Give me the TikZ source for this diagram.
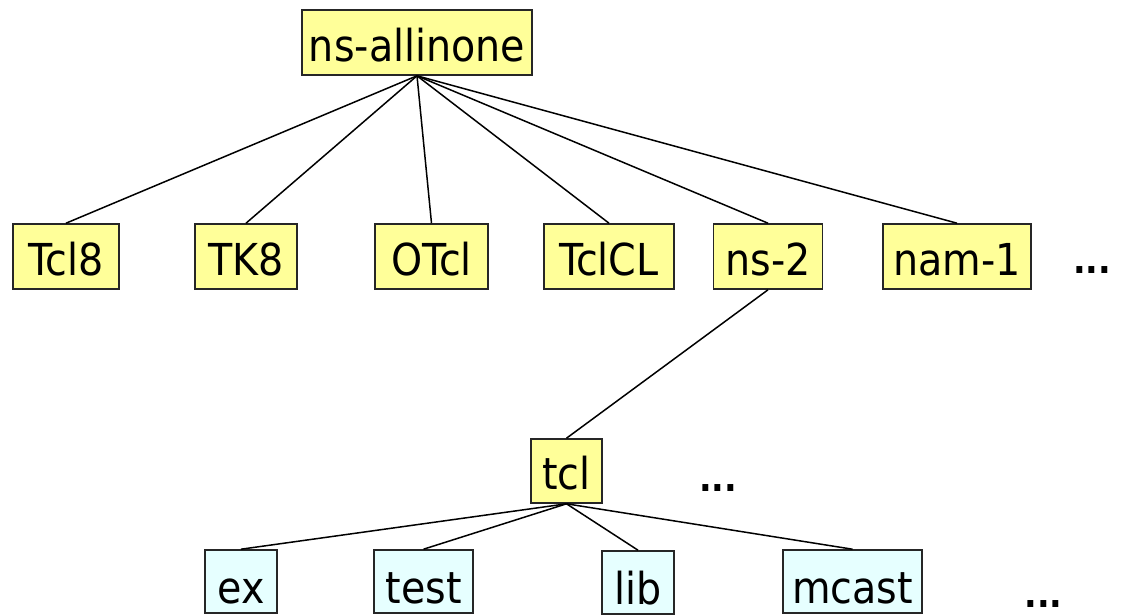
\documentclass[tikz,border=0pt]{standalone}
\usepackage{fontspec}
\setmainfont{DejaVu Sans Condensed}
\definecolor{diryellow}{HTML}{FFFF99}
\definecolor{dircyan}{HTML}{E6FFFF}
\begin{document}
\begin{tikzpicture}[x=1pt,y=-1pt,
  dirbox/.style={draw=black!85, line width=1.6pt, fill=diryellow, inner sep=0pt,
    minimum height=65pt, text height=37pt, text depth=0pt,
    font=\fontsize{44}{50}\selectfont},
  subbox/.style={dirbox, fill=dircyan, minimum height=63pt, text height=44pt},
  link/.style={line width=1.5pt, black},
  moredots/.style={inner sep=0pt, anchor=base, font=\fontsize{37}{40}\selectfont\bfseries}]
\useasboundingbox (0,0) rectangle (1121,614);

% top level of the distribution
\node[dirbox, minimum width=230pt] (root) at (417,42.5) {ns-allinone};

% packages inside ns-allinone
\node[dirbox, minimum width=106pt] (tcl8)  at (66,256.5)  {Tcl8};
\node[dirbox, minimum width=102pt] (tk8)   at (246,256.5) {TK8};
\node[dirbox, minimum width=113pt] (otcl)  at (431.5,256.5) {OTcl};
\node[dirbox, minimum width=130pt] (tclcl) at (609,256.5) {TclCL};
\node[dirbox, minimum width=109pt] (ns2)   at (768,256.5) {ns-2};
\node[dirbox, minimum width=148pt] (nam1)  at (957,256.5) {nam-1};
\node[moredots] (dotsA) at (1092,273) {...};

% inside ns-2
\node[dirbox, minimum width=71pt, minimum height=64pt] (tcl) at (566.5,471) {tcl};
\node[moredots] (dotsB) at (718,491) {...};

% inside tcl
\node[subbox, minimum width=72pt]  (ex)    at (241,581.5)   {ex};
\node[subbox, minimum width=99pt]  (test)  at (423.5,581.5) {test};
\node[subbox, minimum width=72pt]  (lib)   at (638,582.5)   {lib};
\node[subbox, minimum width=139pt] (mcast) at (852.5,581.5) {mcast};
\node[moredots] (dotsC) at (1043.5,607) {...};

% tree edges
\foreach \c in {tcl8,tk8,otcl,tclcl,ns2,nam1}
  \draw[link] (root.south) -- (\c.north);
\draw[link] (ns2.south) -- (tcl.north);
\foreach \c in {ex,test,lib,mcast}
  \draw[link] (tcl.south) -- (\c.north);
\end{tikzpicture}
\end{document}
